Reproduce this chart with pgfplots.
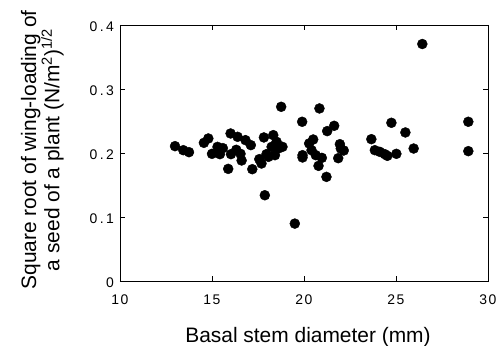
\documentclass[border=0pt]{standalone}
\usepackage{fontspec}
\setmainfont{Liberation Sans}
\usepackage{pgfplots}
\pgfplotsset{compat=1.18}
\begin{document}
\begin{tikzpicture}
\begin{axis}[
  scale only axis,
  width=368bp, height=256bp,
  xmin=10, xmax=30, ymin=0, ymax=0.4,
  xtick={10,15,20,25,30},
  xticklabels={1\hspace{1.5bp}0,1\hspace{1.5bp}5,2\hspace{1.5bp}0,2\hspace{1.5bp}5,3\hspace{1.5bp}0},
  ytick={0,0.1,0.2,0.3,0.4},
  yticklabels={0,0\hspace{2.5bp}.\hspace{2.5bp}1,0\hspace{2.5bp}.\hspace{2.5bp}2,0\hspace{2.5bp}.\hspace{2.5bp}3,0\hspace{2.5bp}.\hspace{2.5bp}4},
  tick align=inside,
  major tick length=5bp,
  axis line style={line width=1pt},
  tick style={line width=0.8pt, black},
  ticklabel style={font=\fontsize{14}{16}\selectfont},
  yticklabel style={xshift=-2.5bp, yshift=-2bp},
  xticklabel style={yshift=-10bp},
  /pgf/number format/assume math mode=true,
  xlabel={Basal stem diameter (mm)},
  xlabel style={font=\fontsize{21}{21}\selectfont, at={(axis description cs:0.5,0)}, anchor=base, inner sep=0pt, yshift=-61bp, xshift=4bp},
  ylabel={Square root of wing-loading of\\a seed of a plant (N/m\textsuperscript{2})\textsuperscript{1/2}},
  ylabel style={font=\fontsize{21}{21}\selectfont, align=center, at={(axis description cs:0,0.5)}, anchor=south, inner sep=0pt, yshift=56bp, xshift=3bp},
  clip=false,
]
\addplot[only marks, mark=*, mark size=5bp, mark options={fill=black, draw=black}] coordinates {
(12.99,0.2107) (13.44,0.2044) (13.75,0.2013) (14.56,0.2159) (14.80,0.2227)
(15.00,0.1987) (15.30,0.2096) (15.43,0.1982) (15.59,0.2076) (15.88,0.1752)
(16.01,0.2305) (16.03,0.1982) (16.32,0.2050) (16.39,0.2253) (16.61,0.1883)
(16.55,0.1987) (16.82,0.2201) (17.11,0.2123) (17.19,0.1747) (17.57,0.1904)
(17.69,0.1836) (17.82,0.2243) (17.87,0.1340) (17.96,0.1982) (18.07,0.1940)
(18.33,0.2279) (18.42,0.1966) (18.51,0.2175) (18.60,0.2070) (18.76,0.2722)
(18.83,0.2096) (18.24,0.2096) (19.50,0.0897) (19.90,0.2488) (19.92,0.1966)
(19.92,0.1930) (20.28,0.2149) (20.50,0.2211) (20.41,0.2044) (20.64,0.1966)
(20.79,0.1799) (20.84,0.2696) (20.97,0.1924) (21.22,0.1627) (21.26,0.2342)
(21.64,0.2425) (21.86,0.1919) (21.95,0.2138) (22.00,0.2070) (22.16,0.2039)
(23.66,0.2216) (23.85,0.2044) (24.12,0.2018) (24.39,0.1982) (24.53,0.1956)
(24.75,0.2472) (25.02,0.1987) (25.51,0.2321) (25.96,0.2070) (26.43,0.3703)
(28.93,0.2488) (28.93,0.2029)
};
\coordinate (ll) at (rel axis cs:0,0);
\coordinate (ur) at (rel axis cs:1,1);
\end{axis}
\pgfresetboundingbox
\path ([shift={(-120bp,-65bp)}]ll) rectangle ([shift={(13bp,25bp)}]ur);
\end{tikzpicture}
\end{document}
